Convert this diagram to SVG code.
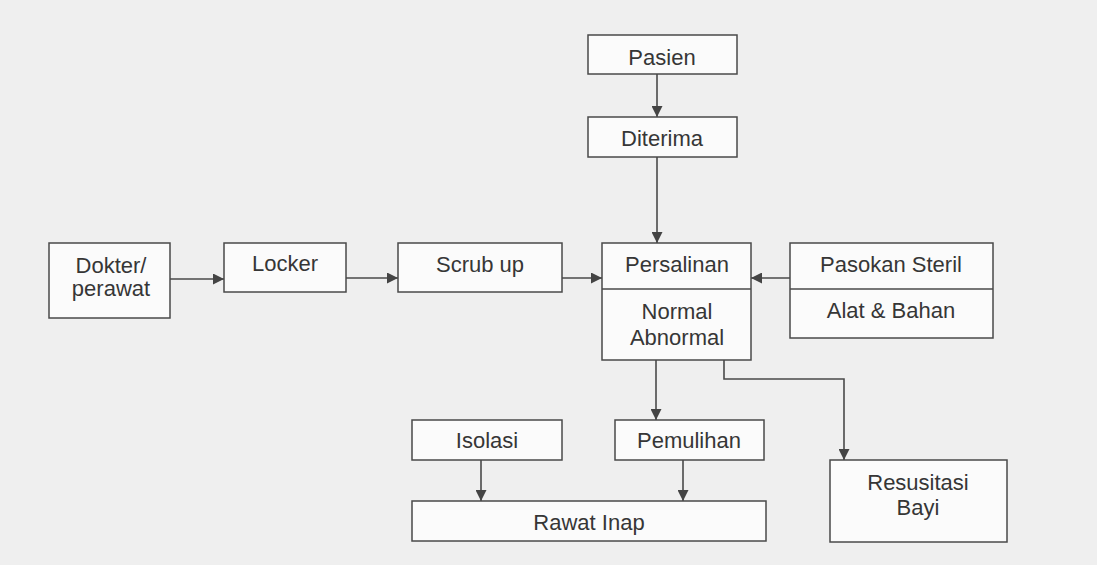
<svg xmlns="http://www.w3.org/2000/svg" width="1097" height="565" viewBox="0 0 1097 565">
  <style>
    .box { fill: #fbfbfb; stroke: #4a4a4a; stroke-width: 1.5; }
    .div { stroke: #4a4a4a; stroke-width: 1.5; fill: none; }
    .lbl { font-family: "Liberation Sans", Arial, sans-serif; font-size: 22px; fill: #363636; text-anchor: middle; }
    .edge { stroke: #4a4a4a; stroke-width: 1.6; fill: none; marker-end: url(#arrow); }
  </style>
  <defs>
    <marker id="arrow" viewBox="0 0 10 10" refX="10" refY="5" markerWidth="12" markerHeight="11" markerUnits="userSpaceOnUse" orient="auto">
      <path d="M0,0 L10,5 L0,10 Z" fill="#444"/>
    </marker>
  </defs>

  <rect width="1097" height="565" fill="#efefef"/>

  <g id="connectors">
    <line class="edge" x1="657" y1="74" x2="657" y2="117"/>
    <line class="edge" x1="657" y1="157" x2="657" y2="243"/>
    <line class="edge" x1="170" y1="279" x2="224" y2="279"/>
    <line class="edge" x1="346" y1="278" x2="398" y2="278"/>
    <line class="edge" x1="562" y1="278" x2="602" y2="278"/>
    <line class="edge" x1="790" y1="278" x2="751" y2="278"/>
    <line class="edge" x1="656" y1="360" x2="656" y2="420"/>
    <polyline class="edge" points="724,360 724,379 844,379 844,460"/>
    <line class="edge" x1="481" y1="460" x2="481" y2="501"/>
    <line class="edge" x1="683" y1="460" x2="683" y2="501"/>
  </g>

  <g id="pasien">
    <rect class="box" x="588" y="35" width="149" height="39"/>
    <text class="lbl" x="662" y="65">Pasien</text>
  </g>
  <g id="diterima">
    <rect class="box" x="588" y="117" width="149" height="40"/>
    <text class="lbl" x="662" y="146">Diterima</text>
  </g>
  <g id="dokter">
    <rect class="box" x="49" y="243" width="121" height="75"/>
    <text class="lbl" x="111" y="273">Dokter/</text>
    <text class="lbl" x="111" y="296">perawat</text>
  </g>
  <g id="locker">
    <rect class="box" x="224" y="243" width="122" height="49"/>
    <text class="lbl" x="285" y="271">Locker</text>
  </g>
  <g id="scrub">
    <rect class="box" x="398" y="243" width="164" height="49"/>
    <text class="lbl" x="480" y="272">Scrub up</text>
  </g>
  <g id="persalinan">
    <rect class="box" x="602" y="243" width="149" height="117"/>
    <line class="div" x1="602" y1="289" x2="751" y2="289"/>
    <text class="lbl" x="677" y="272">Persalinan</text>
    <text class="lbl" x="677" y="319">Normal</text>
    <text class="lbl" x="677" y="345">Abnormal</text>
  </g>
  <g id="pasokan">
    <rect class="box" x="790" y="243" width="203" height="95"/>
    <line class="div" x1="790" y1="289" x2="993" y2="289"/>
    <text class="lbl" x="891" y="272">Pasokan Steril</text>
    <text class="lbl" x="891" y="318">Alat &amp; Bahan</text>
  </g>
  <g id="isolasi">
    <rect class="box" x="412" y="420" width="150" height="40"/>
    <text class="lbl" x="487" y="448">Isolasi</text>
  </g>
  <g id="pemulihan">
    <rect class="box" x="615" y="420" width="149" height="40"/>
    <text class="lbl" x="689" y="448">Pemulihan</text>
  </g>
  <g id="rawat">
    <rect class="box" x="412" y="501" width="354" height="40"/>
    <text class="lbl" x="589" y="530">Rawat Inap</text>
  </g>
  <g id="resusitasi">
    <rect class="box" x="830" y="460" width="177" height="82"/>
    <text class="lbl" x="918" y="490">Resusitasi</text>
    <text class="lbl" x="918" y="515">Bayi</text>
  </g>
</svg>
